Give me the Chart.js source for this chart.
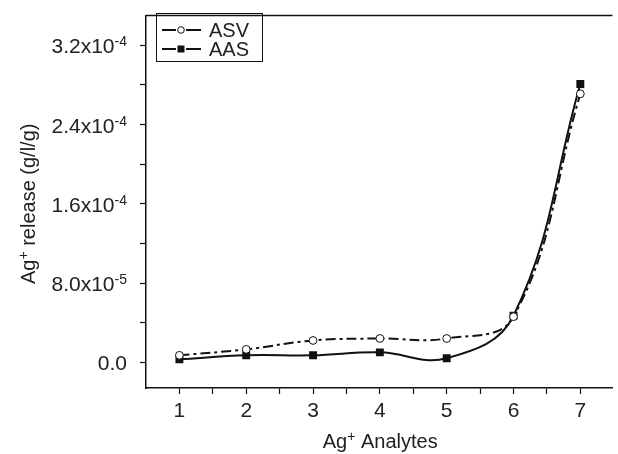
<!DOCTYPE html>
<html>
<head>
<meta charset="utf-8">
<script src="https://cdn.jsdelivr.net/npm/chart.js@4/dist/chart.umd.min.js"></script>
<style>
html,body{margin:0;padding:0;background:#fff;overflow:hidden;}
canvas{display:block;}
</style>
</head>
<body>
<canvas id="c" width="618" height="454"></canvas>
<script>
// ---- data ----
const analytes = [1, 2, 3, 4, 5, 6, 7];
const asvValues = [7e-6, 1.3e-5, 2.2e-5, 2.4e-5, 2.4e-5, 4.6e-5, 2.71e-4];
const aasValues = [3e-6, 7e-6, 7e-6, 1.0e-5, 4e-6, 4.7e-5, 2.81e-4];
const xTickValues = [1, 1.5, 2, 2.5, 3, 3.5, 4, 4.5, 5, 5.5, 6, 6.5, 7];
const yTickValues = [0, 4e-5, 8e-5, 1.2e-4, 1.6e-4, 2.0e-4, 2.4e-4, 2.8e-4, 3.2e-4];
const yTickLabels = {0: ['0.0', null], 8e-5: ['8.0x10', '-5'], 1.6e-4: ['1.6x10', '-4'], 2.4e-4: ['2.4x10', '-4'], 3.2e-4: ['3.2x10', '-4']};
const seriesNames = ['ASV', 'AAS'];

const FONT = '"Liberation Sans", Arial, sans-serif';
const TXT = '#222';

function drawRich(ctx, parts, x, y, align, size, supSize, raise) {
  let w = 0;
  parts.forEach(p => { ctx.font = (p[1] ? supSize : size) + 'px ' + FONT; w += ctx.measureText(p[0]).width; });
  let cx = align === 'center' ? x - w / 2 : (align === 'right' ? x - w : x);
  ctx.textAlign = 'left';
  ctx.textBaseline = 'alphabetic';
  parts.forEach(p => {
    ctx.font = (p[1] ? supSize : size) + 'px ' + FONT;
    ctx.fillText(p[0], cx, p[1] ? y - raise : y);
    cx += ctx.measureText(p[0]).width;
  });
}

const decor = {
  id: 'decor',
  afterDraw(chart) {
    const ctx = chart.ctx, a = chart.chartArea;
    const ys = chart.scales.y;
    ctx.save();
    // top frame line
    ctx.strokeStyle = '#111'; ctx.lineWidth = 1.5;
    ctx.beginPath(); ctx.moveTo(a.left, a.top); ctx.lineTo(a.right, a.top); ctx.stroke();
    ctx.fillStyle = TXT;
    // y tick labels
    yTickValues.forEach(v => {
      const lab = yTickLabels[v];
      if (!lab) return;
      const py = ys.getPixelForValue(v) + 8;
      const parts = [[lab[0], false]];
      if (lab[1]) parts.push([lab[1], true]);
      drawRich(ctx, parts, 127, py, 'right', 21, 14, 7);
    });
    // axis titles
    drawRich(ctx, [['Ag', false], ['+', true], [' Analytes', false]], (a.left + a.right) / 2 + 1, 448, 'center', 20, 14, 7);
    ctx.save();
    ctx.translate(35, (a.top + a.bottom) / 2 + 2);
    ctx.rotate(-Math.PI / 2);
    drawRich(ctx, [['Ag', false], ['+', true], [' release (g/l/g)', false]], 0, 0, 'center', 20, 14, 7);
    ctx.restore();
    // legend
    ctx.strokeStyle = '#111'; ctx.lineWidth = 1;
    ctx.strokeRect(156.5, 13.5, 106, 48);
    const rows = [30, 49];
    chart.data.datasets.forEach((ds, i) => {
      const y = rows[i];
      ctx.strokeStyle = '#111'; ctx.lineWidth = 1.8; ctx.setLineDash([]);
      ctx.beginPath(); ctx.moveTo(162, y); ctx.lineTo(176, y); ctx.moveTo(186, y); ctx.lineTo(201, y); ctx.stroke();
      if (i === 0) {
        ctx.fillStyle = '#fff'; ctx.lineWidth = 1;
        ctx.beginPath(); ctx.arc(181, y, 3.3, 0, Math.PI * 2); ctx.fill(); ctx.stroke();
      } else {
        ctx.fillStyle = '#111';
        ctx.fillRect(177.5, y - 3.5, 7, 7);
      }
      ctx.fillStyle = TXT;
      drawRich(ctx, [[ds.label, false]], 209, y + 7, 'left', 20, 14, 7);
    });
    ctx.restore();
  }
};

new Chart(document.getElementById('c'), {
  type: 'line',
  data: {
    datasets: [
      {
        label: seriesNames[0],
        data: analytes.map((x, i) => ({x: x, y: asvValues[i]})),
        borderColor: '#111', borderWidth: 2, borderDash: [10, 4, 3, 4],
        tension: 0.4, pointStyle: 'circle', pointRadius: 3.9,
        pointBackgroundColor: '#fff', pointBorderColor: '#111', pointBorderWidth: 1, fill: false
      },
      {
        label: seriesNames[1],
        data: analytes.map((x, i) => ({x: x, y: aasValues[i]})),
        borderColor: '#111', borderWidth: 2,
        tension: 0.4, pointStyle: 'rect', pointRadius: 5.6,
        pointBackgroundColor: '#111', pointBorderColor: '#111', pointBorderWidth: 0, fill: false
      }
    ]
  },
  options: {
    responsive: false, animation: false, devicePixelRatio: 1,
    layout: {padding: {top: 13, right: 0, left: 0, bottom: 0}},
    plugins: {legend: {display: false}, tooltip: {enabled: false}},
    scales: {
      x: {
        type: 'linear', min: 0.5, max: 7.48,
        afterFit(s) { s.height = 66; },
        afterBuildTicks(s) { s.ticks = xTickValues.map(v => ({value: v})); },
        border: {display: true, color: '#111', width: 1.5},
        grid: {drawOnChartArea: false, drawTicks: true, tickLength: 6, tickColor: '#111', tickWidth: 1.2},
        ticks: {
          autoSkip: false, maxRotation: 0, padding: 5, color: TXT,
          font: {family: FONT, size: 21},
          callback: v => Number.isInteger(v) ? String(v) : ''
        }
      },
      y: {
        type: 'linear', min: -2.6e-5, max: 3.5e-4,
        afterFit(s) { s.width = 146; },
        afterBuildTicks(s) { s.ticks = yTickValues.map(v => ({value: v})); },
        border: {display: true, color: '#111', width: 1.5},
        grid: {drawOnChartArea: false, drawTicks: true, tickLength: 6, tickColor: '#111', tickWidth: 1.2},
        ticks: {autoSkip: false, color: TXT, font: {family: FONT, size: 21}, callback: () => ''}
      }
    }
  },
  plugins: [decor]
});
</script>
</body>
</html>
